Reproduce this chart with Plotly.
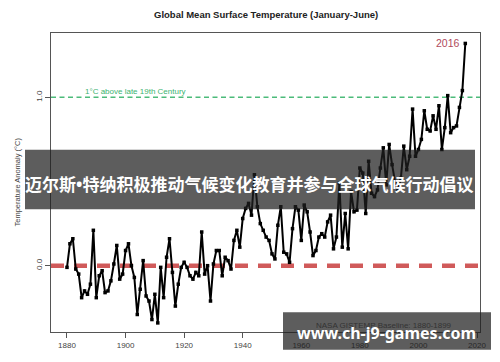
import plotly.graph_objects as go

years = list(range(1880, 2017))
anomaly = [
    -0.01, 0.13, 0.16, -0.02, -0.05, -0.19, -0.15, -0.17, -0.11, 0.21,   # 1880-1889
    -0.19, -0.06, -0.03, -0.16, -0.15, -0.09, 0.01, 0.12, -0.08, -0.05,   # 1890-1899
    0.09, 0.13, 0.00, -0.07, -0.29, -0.14, 0.03, -0.18, -0.21, -0.32,     # 1900-1909
    -0.17, -0.34, -0.01, -0.19, 0.05, 0.16, -0.04, -0.24, -0.11, -0.01,   # 1910-1919
    0.02, -0.01, -0.06, -0.08, -0.04, -0.06, 0.20, -0.05, 0.00, -0.21,    # 1920-1929
    0.01, 0.09, 0.09, -0.06, 0.05, 0.03, -0.02, 0.15, 0.21, 0.11,         # 1930-1939
    0.28, 0.34, 0.37, 0.30, 0.54, 0.35, 0.25, 0.21, 0.17, 0.15,           # 1940-1949
    0.07, 0.04, 0.24, 0.35, 0.08, 0.07, 0.02, 0.22, 0.35, 0.33,           # 1950-1959
    0.15, 0.36, 0.32, 0.20, 0.06, 0.09, 0.17, 0.19, 0.17, 0.26,           # 1960-1969
    0.30, 0.10, 0.17, 0.49, 0.11, 0.31, 0.10, 0.44, 0.32, 0.33,           # 1970-1979
    0.58, 0.55, 0.31, 0.62, 0.43, 0.41, 0.45, 0.58, 0.70, 0.48,           # 1980-1989
    0.72, 0.60, 0.50, 0.45, 0.52, 0.71, 0.57, 0.65, 0.93, 0.65,           # 1990-1999
    0.69, 0.75, 0.92, 0.81, 0.80, 0.89, 0.81, 0.95, 0.69, 0.82,           # 2000-2009
    1.01, 0.79, 0.82, 0.83, 0.94, 1.04, 1.32,                             # 2010-2016
]
x_ticks = [1880, 1900, 1920, 1940, 1960, 1980, 2000, 2020]
y_ticks = [0.0, 1.0]
y_tick_labels = ["0.0", "1.0"]
reference_line = 1.0
baseline = 0.0

title = "Global Mean Surface Temperature (January-June)"
ytitle = "Temperature Anomaly (°C)"
ref_label = "1°C above late 19th Century"
source_label = "NASA GISTEMP Baseline: 1880-1899"
banner_text = "迈尔斯•特纳积极推动气候变化教育并参与全球气候行动倡议"
url_text = "www.ch-j9-games.com"

W, H = 500, 362
L, R, T, B = 51, 480, 33, 335
pw, ph = R - L, B - T


def px(x):
    return (x - L) / pw


def py(y):
    return (B - y) / ph


fig = go.Figure()
fig.add_trace(go.Scatter(
    x=years, y=anomaly, mode="lines+markers",
    line=dict(color="black", width=2),
    marker=dict(color="black", size=3.5, symbol="square"),
    showlegend=False, hoverinfo="skip",
))

shapes = [
    dict(type="line", xref="paper", yref="y", x0=0, x1=1, y0=reference_line, y1=reference_line,
         line=dict(color="#4cbb7a", width=1.5, dash="5px,3.5px"), layer="below"),
    dict(type="line", xref="paper", yref="y", x0=0, x1=1, y0=baseline, y1=baseline,
         line=dict(color="#d05a5a", width=4.5, dash="13px,10px"), layer="below"),
    # overlay banners
    dict(type="rect", xref="paper", yref="paper", x0=px(25), x1=px(475), y0=py(211), y1=py(151),
         fillcolor="rgba(30,30,30,0.72)", line=dict(width=0), layer="above"),
    dict(type="rect", xref="paper", yref="paper", x0=px(283), x1=px(491), y0=py(353), y1=py(315),
         fillcolor="rgba(30,30,30,0.72)", line=dict(width=0), layer="above"),
]

annotations = [
    dict(text="<b>" + title + "</b>", xref="paper", yref="paper", x=px(266), y=py(14),
         xanchor="center", yanchor="middle",
         showarrow=False, font=dict(family="Liberation Sans", size=9.5, color="#222")),
    dict(text=ytitle, xref="paper", yref="paper", x=px(17), y=py(184), textangle=-90,
         xanchor="center", yanchor="middle",
         showarrow=False, font=dict(family="Liberation Sans", size=7.5, color="#444")),
    dict(text=ref_label, xref="x", yref="y", x=1885.4, y=1.037, xanchor="left", yanchor="middle",
         showarrow=False, font=dict(family="Liberation Sans", size=8, color="#3cb371")),
    dict(text=str(years[-1]), xref="x", yref="y", x=years[-1], y=anomaly[-1], xanchor="right",
         yanchor="middle", xshift=-3, showarrow=False,
         font=dict(family="Liberation Sans", size=10.5, color="#b04a5c")),
    dict(text=source_label, xref="x", yref="y", x=2012.1, y=-0.353, xanchor="right", yanchor="middle",
         showarrow=False, font=dict(family="Liberation Sans", size=8, color="#333")),
    dict(text="<b>" + banner_text + "</b>", xref="paper", yref="paper", x=px(249), y=py(186),
         xanchor="center", yanchor="middle",
         showarrow=False, font=dict(family="Noto Sans, Noto Sans CJK SC", size=17, color="white")),
    dict(text="<b>" + url_text + "</b>", xref="paper", yref="paper", x=px(386), y=py(336),
         xanchor="center", yanchor="middle",
         showarrow=False, font=dict(family="Noto Sans", size=16, color="white")),
]

fig.update_layout(
    width=W, height=H,
    margin=dict(l=L, r=W - R, t=T, b=H - B, pad=0),
    paper_bgcolor="white", plot_bgcolor="white",
    shapes=shapes, annotations=annotations,
    xaxis=dict(range=[1874.54, 2021.02], tickvals=x_ticks, showgrid=False, zeroline=False,
               showline=True, mirror=True, linecolor="#555", linewidth=1,
               ticks="outside", ticklen=5, tickcolor="#555",
               tickfont=dict(family="Liberation Sans", size=8, color="#444")),
    yaxis=dict(range=[-0.394, 1.382], tickvals=y_ticks, ticktext=y_tick_labels, showgrid=False,
               zeroline=False, showline=True, mirror=True, linecolor="#555", linewidth=1,
               ticks="outside", ticklen=5, tickcolor="#555", tickangle=-90,
               tickfont=dict(family="Liberation Sans", size=8, color="#444")),
)

fig.write_html("out.html", config={"displayModeBar": False},
               post_script="document.body.style.margin='0';")
